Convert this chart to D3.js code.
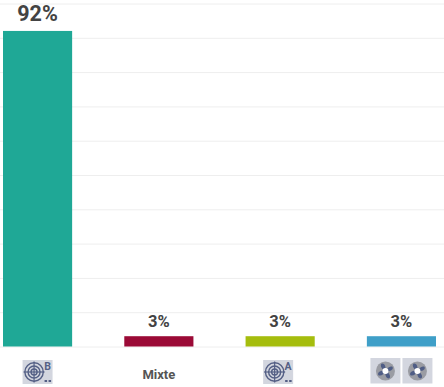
<!DOCTYPE html>
<html>
<head>
<meta charset="utf-8">
<script src="https://cdnjs.cloudflare.com/ajax/libs/d3/7.8.5/d3.min.js"></script>
<style>
  html, body { margin: 0; padding: 0; background: #fff; overflow: hidden; }
  svg { display: block; font-family: Roboto, sans-serif; }
</style>
</head>
<body>
<script>
// Share per category, bar chart with icon labels

const categories = ["B", "Mixte", "A", "Fans"];
const shares = [92, 3, 3, 3];
const barColors = ["#1fa896", "#9b0a36", "#a5bd0d", "#3f9fc8"];
const yTicks = [0, 10, 20, 30, 40, 50, 60, 70, 80, 90, 100];

const outerWidth = 444;
const outerHeight = 387;

const svg = d3.select("body").append("svg")
    .attr("width", outerWidth)
    .attr("height", outerHeight);

const x = d3.scaleBand()
    .domain(categories)
    .range([3, 436])
    .paddingInner(0.43)
    .paddingOuter(0);

const y = d3.scaleLinear()
    .domain([0, 100])
    .range([346.5, 3.5]);

// gridlines
svg.append("g")
    .call(d3.axisLeft(y).tickValues(yTicks).tickSize(-outerWidth).tickFormat(""))
    .call(g => g.select(".domain").remove())
    .call(g => g.selectAll("line").attr("stroke", "#eeeeee"));

svg.selectAll(".bar")
    .data(categories)
    .join("rect")
    .attr("class", "bar")
    .attr("x", d => x(d))
    .attr("width", x.bandwidth())
    .attr("y", (d, i) => y(shares[i]))
    .attr("height", (d, i) => y(0) - y(shares[i]))
    .attr("fill", (d, i) => barColors[i]);

svg.selectAll(".bar-label")
    .data(categories)
    .join("text")
    .attr("class", "bar-label")
    .attr("x", d => x(d) + x.bandwidth() / 2)
    .attr("y", (d, i) => y(shares[i]) - (i === 0 ? 10 : 9))
    .attr("text-anchor", "middle")
    .attr("fill", "#434343")
    .attr("font-weight", 700)
    .attr("font-size", (d, i) => i === 0 ? 21.5 : 16.5)
    .text((d, i) => shares[i] + "%");

// bottom axis, only Mixte is plain text, the others get icons
const axis = svg.append("g")
    .attr("transform", "translate(0," + y(0) + ")")
    .call(d3.axisBottom(x).tickSize(0).tickFormat(d => d === "Mixte" ? d : ""));
axis.select(".domain").remove();
axis.selectAll("text")
    .attr("y", 28)
    .attr("dy", "0.32em")
    .attr("font-family", "Roboto, sans-serif")
    .attr("font-weight", 700)
    .attr("font-size", 13)
    .attr("fill", "#555555");

const iconColor = "#545f85";
const tileColor = "#d3d6df";

function targetIcon(cx, letter) {
    const g = svg.append("g").attr("transform", "translate(" + (cx - 15) + ",360)");
    g.append("rect").attr("width", 30).attr("height", 24).attr("fill", tileColor);
    const t = g.append("g").attr("fill", "none").attr("stroke", iconColor);
    [9.2, 6, 3].forEach(r => t.append("circle").attr("cx", 11.5).attr("cy", 12).attr("r", r).attr("stroke-width", 1.4));
    t.append("line").attr("x1", 1).attr("x2", 22).attr("y1", 12).attr("y2", 12).attr("stroke-width", 1.2);
    t.append("line").attr("x1", 11.5).attr("x2", 11.5).attr("y1", 1.5).attr("y2", 22.5).attr("stroke-width", 1.2);
    g.append("text").attr("x", 25).attr("y", 9.5).attr("text-anchor", "middle")
        .attr("font-size", 10.5).attr("font-weight", 700).attr("fill", iconColor).text(letter);
    g.append("rect").attr("x", 22).attr("y", 20).attr("width", 2.5).attr("height", 2).attr("fill", iconColor);
    g.append("rect").attr("x", 26).attr("y", 20).attr("width", 2.5).attr("height", 2).attr("fill", iconColor);
}

function fanIcon(left) {
    const g = svg.append("g").attr("transform", "translate(" + left + ",358)");
    g.append("rect").attr("width", 30).attr("height", 25.5).attr("fill", tileColor);
    g.append("circle").attr("cx", 15).attr("cy", 13).attr("r", 9.5).attr("fill", "#9a9ca3");
    const blades = g.append("g").attr("transform", "translate(15,13)");
    [45, 135, 225, 315].forEach(a => {
        blades.append("path")
            .attr("d", "M0,0 C-1,-3 -1,-7 2,-8 C5,-7 4,-3 0,0Z")
            .attr("transform", "rotate(" + a + ")")
            .attr("fill", "#4f5d85");
    });
    g.append("circle").attr("cx", 15).attr("cy", 13).attr("r", 3).attr("fill", "#ffffff");
}

targetIcon(x("B") + x.bandwidth() / 2, "B");
targetIcon(x("A") + x.bandwidth() / 2 - 2, "A");
fanIcon(x("Fans") + x.bandwidth() / 2 - 31);
fanIcon(x("Fans") + x.bandwidth() / 2 + 1);
</script>
</body>
</html>
